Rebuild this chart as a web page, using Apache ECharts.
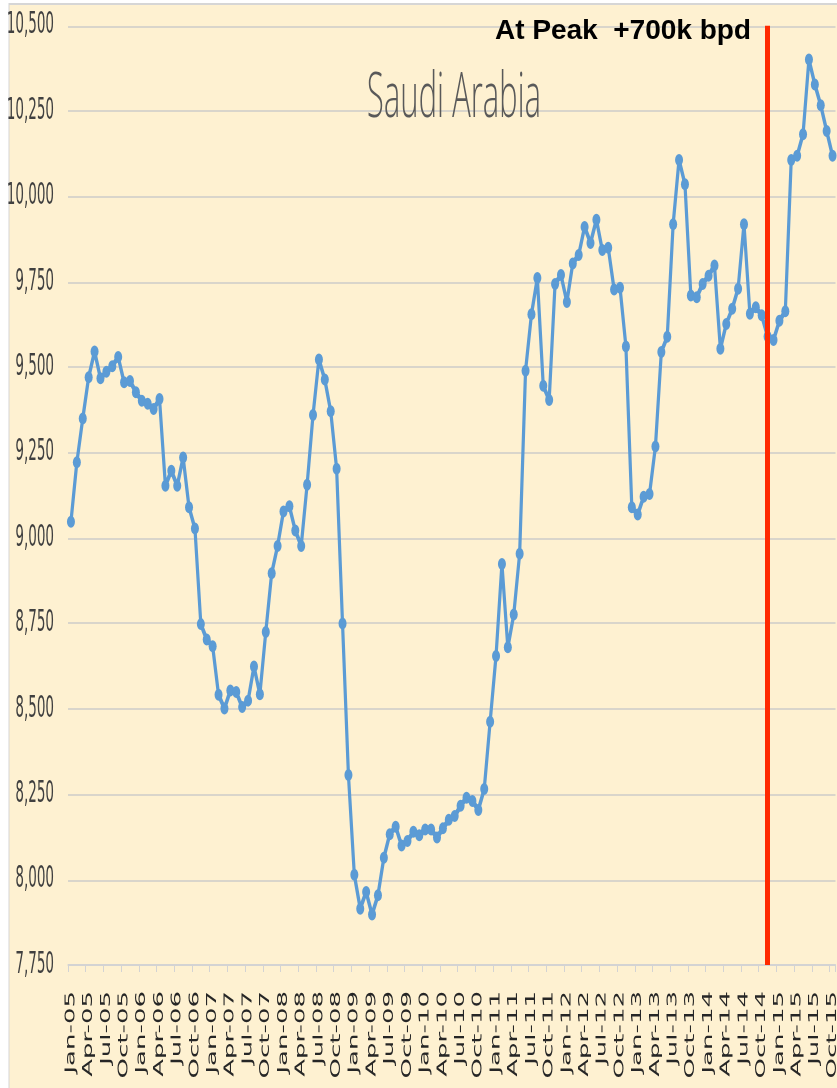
<!DOCTYPE html>
<html>
<head>
<meta charset="utf-8">
<title>Saudi Arabia</title>
<script src="https://cdn.jsdelivr.net/npm/echarts@6/dist/echarts.min.js"></script>
<style>
  html, body { margin: 0; padding: 0; background: #ffffff; }
  #page { width: 837px; height: 1088px; overflow: hidden; position: relative; }
  /* the source picture is stretched 2x vertically, so draw at half height and stretch */
  #chart { position: absolute; left: 0; top: 0; width: 837px; height: 544px; transform: scaleY(2); transform-origin: 0 0; }
</style>
</head>
<body>
<div id="page"><div id="chart"></div></div>
<script>
  // months Jan-05 .. Oct-15
  const MONTHS = ['Jan', 'Feb', 'Mar', 'Apr', 'May', 'Jun', 'Jul', 'Aug', 'Sep', 'Oct', 'Nov', 'Dec'];
  const YEARS = ['05', '06', '07', '08', '09', '10', '11', '12', '13', '14', '15'];
  const LAST_MONTH = 'Oct-15';

  // crude oil production, thousand bpd
  const production = [
    9048, 9222, 9350, 9471, 9546, 9468, 9487, 9503, 9530, 9456, 9460, 9427,
    9402, 9393, 9378, 9407, 9153, 9197, 9153, 9236, 9090, 9028, 8748, 8703,
    8683, 8541, 8501, 8554, 8549, 8505, 8524, 8624, 8543, 8725, 8897, 8977,
    9078, 9093, 9022, 8977, 9156, 9360, 9523, 9464, 9371, 9203, 8750, 8306,
    8014, 7915, 7964, 7898, 7954, 8064, 8133, 8155, 8100, 8113, 8140, 8130,
    8147, 8147, 8123, 8150, 8175, 8186, 8216, 8240, 8230, 8204, 8265, 8462,
    8655, 8924, 8680, 8776, 8954, 9490, 9655, 9761, 9446, 9404, 9744, 9770,
    9691, 9804, 9829, 9911, 9864, 9932, 9843, 9850, 9728, 9733, 9561, 9090,
    9069, 9121, 9129, 9268, 9545, 9589, 9919, 10107, 10036, 9710, 9705, 9744,
    9768, 9798, 9554, 9627, 9671, 9730, 9919, 9657, 9676, 9652, 9590, 9580,
    9636, 9664, 10107, 10119, 10182, 10401, 10328, 10267, 10192, 10119
  ];

  const peakMonth = 'Nov-14';
  const peakNote = 'At Peak  +700k bpd';

  let categories = [];
  for (let y of YEARS) {
    for (let m of MONTHS) {
      categories.push(m + '-' + y);
    }
  }
  categories = categories.slice(0, categories.indexOf(LAST_MONTH) + 1);

  let myChart = echarts.init(document.getElementById('chart'), null, { devicePixelRatio: 2 });
  myChart.setOption({
    backgroundColor: '#ffffff',
    animation: false,
    title: {
      text: 'Saudi Arabia',
      left: 454,
      top: 34,
      padding: 0,
      textAlign: 'center',
      textStyle: {
        fontFamily: '"Open Sans", "Noto Sans", sans-serif',
        fontWeight: 300,
        fontSize: 31,
        color: '#595959'
      }
    },
    graphic: [
      {
        type: 'rect',
        z: -10,
        silent: true,
        shape: { x: 9, y: 2, width: 840, height: 560 },
        style: { fill: '#FEF1D1', stroke: '#D6D6D6', lineWidth: 1 }
      },
      {
        type: 'text',
        z: 100,
        x: 495,
        y: 8.5,
        scaleY: 0.5,
        silent: true,
        style: {
          text: peakNote,
          font: 'bold 28px "Liberation Sans", Arial, sans-serif',
          fill: '#000000',
          verticalAlign: 'top',
          textVerticalAlign: 'top'
        }
      }
    ],
    grid: {
      left: 68,
      right: 1.5,
      top: 12.85,
      bottom: 61.5,
      containLabel: false,
      outerBoundsMode: 'none'
    },
    xAxis: {
      type: 'category',
      data: categories,
      boundaryGap: true,
      axisLine: { lineStyle: { color: '#D3D3D3', width: 1 } },
      axisTick: { show: true, interval: 2, length: 3.5, lineStyle: { color: '#D3D3D3' } },
      axisLabel: {
        interval: 2,
        rotate: 90,
        margin: 13,
        fontFamily: '"DejaVu Sans", sans-serif',
        fontSize: 13,
        color: '#262626'
      },
      splitLine: { show: false }
    },
    yAxis: {
      type: 'value',
      min: 7750,
      max: 10500,
      interval: 250,
      axisLine: { show: false },
      axisTick: { show: false },
      axisLabel: {
        margin: 14,
        fontFamily: '"Liberation Sans Narrow", "DejaVu Sans Condensed", sans-serif',
        fontSize: 15,
        color: '#404040',
        formatter: v => v.toLocaleString('en-US')
      },
      splitLine: { lineStyle: { color: '#D9D5CB', width: 1 } }
    },
    series: [{
      name: 'Saudi Arabia',
      type: 'line',
      data: production,
      showAllSymbol: true,
      symbol: 'circle',
      symbolSize: [8, 6],
      lineStyle: { color: '#5B9BD5', width: 3.2 },
      itemStyle: { color: '#5B9BD5' },
      markLine: {
        silent: true,
        symbol: ['none', 'none'],
        label: { show: false },
        lineStyle: { color: '#FF2A00', width: 5, type: 'solid' },
        data: [{ xAxis: peakMonth }]
      }
    }]
  });
</script>
</body>
</html>
